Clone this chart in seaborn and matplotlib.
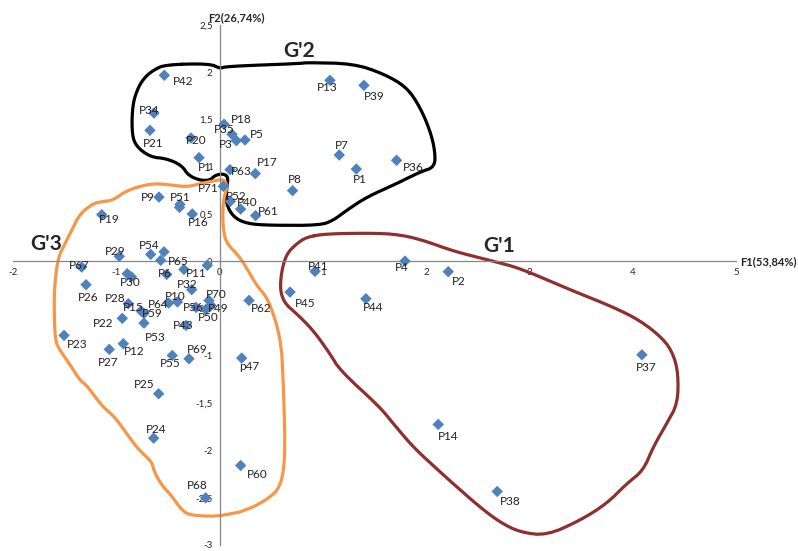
import numpy as np
import pandas as pd
import matplotlib
matplotlib.use("Agg")
import matplotlib.pyplot as plt
import seaborn as sns
from matplotlib.ticker import FuncFormatter, MultipleLocator

# point labels and coordinates on the two factorial axes
labels = ["P42", "P34", "P21", "P20", "P1", "P18", "P35", "P3", "P5", "P13",
          "P39", "P7", "P1", "P36", "P17", "P63", "P8", "P71", "P52", "P40",
          "P61", "P9", "P51", "", "P16", "P19", "P29", "P54", "", "P65",
          "P6", "P11", "", "P30", "", "P32", "P28", "P15", "P59", "P53",
          "P22", "P64", "P10", "P56", "P70", "P49", "P50", "P43", "P67", "P26",
          "P23", "P27", "P12", "P55", "P69", "p47", "P25", "P24", "P60", "P68",
          "P41", "P4", "P2", "P45", "P44", "P62", "P37", "P14", "P38"]
f1 = [-0.535, -0.635, -0.674, -0.277, -0.199, 0.043, 0.120, 0.162, 0.246, 1.069,
      1.398, 1.159, 1.324, 1.714, 0.346, 0.101, 0.707, 0.036, 0.104, 0.204,
      0.349, -0.587, -0.383, -0.388, -0.264, -1.141, -0.971, -0.667, -0.538, -0.570,
      -0.512, -0.345, -0.119, -0.894, -0.853, -0.270, -0.884, -0.761, -0.732, -0.732,
      -0.942, -0.493, -0.408, -0.228, -0.103, -0.083, -0.132, -0.325, -1.335, -1.293,
      -1.506, -1.068, -0.932, -0.458, -0.296, 0.214, -0.590, -0.638, 0.204, -0.135,
      0.924, 1.795, 2.214, 0.682, 1.417, 0.285, 4.089, 2.117, 2.688]
f2 = [1.968, 1.569, 1.386, 1.305, 1.097, 1.450, 1.344, 1.277, 1.284, 1.915,
      1.862, 1.125, 0.977, 1.069, 0.928, 0.970, 0.748, 0.794, 0.635, 0.553,
      0.484, 0.680, 0.603, 0.571, 0.501, 0.494, 0.053, 0.074, 0.101, 0.011,
      -0.138, -0.085, -0.042, -0.130, -0.164, -0.299, -0.448, -0.524, -0.550, -0.653,
      -0.603, -0.441, -0.429, -0.487, -0.413, -0.466, -0.508, -0.677, -0.060, -0.247,
      -0.783, -0.931, -0.871, -0.995, -1.030, -1.023, -1.400, -1.870, -2.159, -2.501,
      -0.106, 0.003, -0.109, -0.325, -0.395, -0.413, -0.988, -1.725, -2.434]

# where each label sits relative to its point (pixels, right / down)
label_offsets = [(19, 6), (-5, -3), (3, 13), (5, 3), (6, 10), (17, -5), (-8, -5), (-10, 4), (12, -5), (-3, 7),
                 (10, 11), (3, -10), (3, 10), (17, 7), (12, -11), (11, 2), (2, -11), (-15, 2), (6, -5), (7, -7),
                 (13, -4), (-11, 0), (0, -7), (0, 0), (6, 8), (8, 5), (-4, -5), (-1, -9), (0, 0), (18, 1),
                 (-2, -1), (12, 4), (0, 0), (3, 9), (0, 0), (-5, -5), (-13, -5), (-8, -3), (8, 0), (11, 14),
                 (-19, 5), (-10, 1), (-2, -5), (-3, 0), (7, -6), (7, 3), (2, 8), (-3, 0), (-2, -2), (2, 13),
                 (13, 9), (-1, 13), (11, 8), (-2, 8), (8, -9), (8, 8), (-14, -9), (2, -9), (17, 9), (-8, -12),
                 (3, -5), (-3, 6), (11, 10), (15, 11), (7, 9), (12, 8), (4, 13), (10, 12), (13, 10)]

# hand drawn group outlines
g2_outline = [(-0.529, 2.081), (-0.093, 2.092), (0.004, 2.039), (0.069, 2.063), (0.778, 2.092),
              (0.843, 2.103), (1.294, 2.092), (1.585, 1.986), (1.811, 1.844), (1.940, 1.633),
              (2.037, 1.386), (2.085, 1.175), (2.085, 0.998), (1.940, 0.945), (1.714, 0.822),
              (1.424, 0.680), (1.230, 0.540), (1.101, 0.434), (0.972, 0.381), (0.488, 0.381),
              (0.262, 0.399), (0.133, 0.469), (0.062, 0.611), (0.069, 0.786), (0.084, 0.892),
              (0.036, 0.928), (-0.045, 0.910), (-0.093, 0.857), (-0.190, 0.857), (-0.303, 0.910),
              (-0.367, 1.016), (-0.512, 1.087), (-0.674, 1.104), (-0.819, 1.228), (-0.851, 1.386),
              (-0.841, 1.669), (-0.787, 1.844), (-0.722, 1.950), (-0.642, 2.021)]
g3_outline = [(-1.157, 0.628), (-1.029, 0.646), (-0.899, 0.751), (-0.674, 0.822), (-0.512, 0.815),
              (-0.318, 0.786), (-0.190, 0.822), (0.004, 0.865), (0.052, 0.857), (0.075, 0.786),
              (0.043, 0.680), (0.030, 0.540), (0.036, 0.328), (0.069, 0.187), (0.197, 0.046),
              (0.294, -0.130), (0.359, -0.254), (0.456, -0.378), (0.520, -0.553), (0.568, -0.730),
              (0.601, -0.942), (0.611, -1.153), (0.623, -1.471), (0.633, -1.894), (0.623, -2.212),
              (0.575, -2.402), (0.488, -2.494), (0.359, -2.582), (0.197, -2.653), (0.133, -2.663),
              (-0.028, -2.698), (-0.255, -2.688), (-0.351, -2.653), (-0.480, -2.458), (-0.545, -2.388),
              (-0.625, -2.247), (-0.657, -2.124), (-0.706, -2.071), (-0.803, -1.965), (-0.899, -1.823),
              (-1.013, -1.648), (-1.126, -1.542), (-1.190, -1.453), (-1.287, -1.312), (-1.351, -1.259),
              (-1.432, -1.119), (-1.545, -0.942), (-1.593, -0.836), (-1.603, -0.448), (-1.593, -0.201),
              (-1.561, 0.046), (-1.497, 0.187), (-1.432, 0.328), (-1.351, 0.505), (-1.223, 0.611)]
g1_outline = [(0.843, 0.257), (1.037, 0.293), (1.553, 0.299), (1.778, 0.275), (1.972, 0.222),
              (2.198, 0.134), (2.359, 0.081), (2.682, -0.007), (2.908, -0.074), (3.295, -0.254),
              (3.489, -0.342), (3.811, -0.484), (4.070, -0.624), (4.295, -0.818), (4.392, -0.977),
              (4.441, -1.188), (4.435, -1.506), (4.328, -1.717), (4.198, -1.965), (4.102, -2.212),
              (3.941, -2.352), (3.747, -2.564), (3.489, -2.741), (3.166, -2.899), (2.908, -2.865),
              (2.714, -2.759), (2.521, -2.600), (2.262, -2.352), (2.102, -2.194), (1.875, -1.965),
              (1.682, -1.717), (1.553, -1.542), (1.166, -1.153), (1.069, -0.977), (0.907, -0.730),
              (0.746, -0.553), (0.633, -0.448), (0.585, -0.307), (0.601, -0.095), (0.650, 0.081),
              (0.746, 0.187)]


def chaikin(pts, n=2):
    p = np.asarray(pts, dtype=float)
    for _ in range(n):
        q = np.roll(p, -1, axis=0)
        new = np.empty((2 * len(p), 2))
        new[0::2] = 0.75 * p + 0.25 * q
        new[1::2] = 0.25 * p + 0.75 * q
        p = new
    return np.vstack([p, p[:1]])


df = pd.DataFrame({"label": labels, "F1": f1, "F2": f2})

sns.set_style("white")
plt.rcParams['font.family'] = ['Lato', 'DejaVu Sans']
plt.rcParams['axes.unicode_minus'] = False

fig = plt.figure(figsize=(7.98, 5.51), dpi=100)
ax = fig.add_axes([0.0163, 0.0109, 0.906, 0.9437])

# outlines
for pts, col in [(g2_outline, "black"), (g3_outline, "#F79646"), (g1_outline, "#8E302E")]:
    sm = chaikin(pts)
    ax.plot(sm[:, 0], sm[:, 1], color=col, lw=2.3, solid_joinstyle="round", zorder=2, clip_on=False)

sns.scatterplot(data=df, x="F1", y="F2", marker="D", color="#4F81BD", s=34,
                edgecolor="none", ax=ax, zorder=3, legend=False)

for (lab, x, y), (dx, dy) in zip(zip(labels, f1, f2), label_offsets):
    if lab:
        ax.annotate(lab, (x, y), xytext=(dx, -dy), textcoords="offset pixels",
                    ha="center", va="center", fontsize=8.5, color="#222222", zorder=4)

ax.set_xlim(-2, 5)
ax.set_ylim(-3, 2.5)
ax.spines["left"].set_position(("data", 0))
ax.spines["bottom"].set_position(("data", 0))
ax.spines["top"].set_visible(False)
ax.spines["right"].set_visible(False)
for s in ["left", "bottom"]:
    ax.spines[s].set_color("#868686")
    ax.spines[s].set_linewidth(0.9)

ax.xaxis.set_major_locator(MultipleLocator(1))
ax.yaxis.set_major_locator(MultipleLocator(0.5))
fmt = FuncFormatter(lambda v, p: f"{v:g}".replace(".", ","))
ax.xaxis.set_major_formatter(fmt)
ax.yaxis.set_major_formatter(fmt)
ax.tick_params(axis="both", labelsize=7, length=3, color="#868686", width=0.8, pad=2)
ax.set_xlabel("")
ax.set_ylabel("")

ax.text(0.159, 2.582, "F2(26,74%)", ha="center", va="center", fontsize=8, fontweight="bold", clip_on=False)
ax.text(5.04, 0.0, "F1(53,84%)", ha="left", va="center", fontsize=8, fontweight="bold", clip_on=False)

ax.text(0.769, 2.225, "G'2", ha="center", va="center", fontsize=15, fontweight="bold")
ax.text(-1.674, 0.187, "G'3", ha="center", va="center", fontsize=15, fontweight="bold")
ax.text(2.708, 0.159, "G'1", ha="center", va="center", fontsize=15, fontweight="bold")

fig.savefig("out.png", dpi=100)
